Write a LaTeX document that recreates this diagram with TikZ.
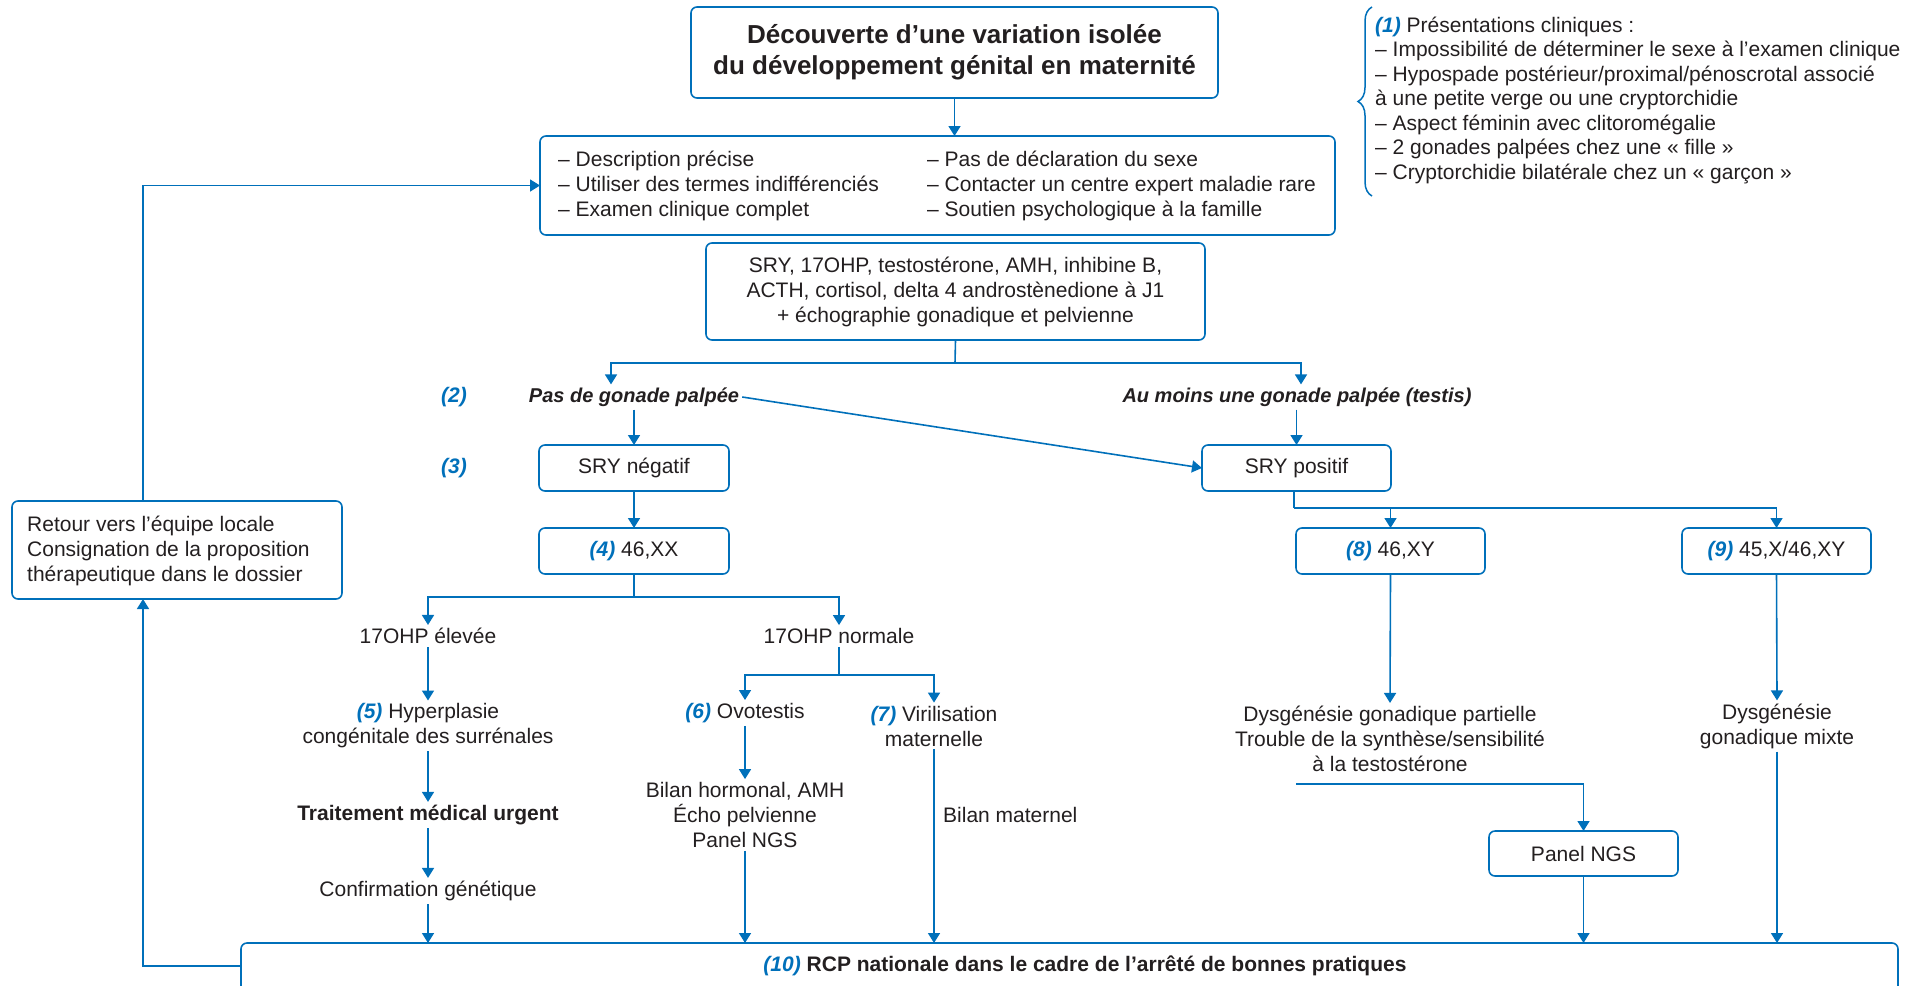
\documentclass[tikz,border=0pt]{standalone}
\usepackage{fontspec}
\setmainfont{Liberation Sans}
\usetikzlibrary{arrows.meta,decorations.pathreplacing,calc}
\definecolor{myblue}{RGB}{0,112,186}
\definecolor{txtgray}{RGB}{35,31,32}
\newcommand{\nbr}[1]{{\color{myblue}\bfseries\itshape #1}}
\begin{document}
\begin{tikzpicture}[x=1pt,y=-1pt,
  bx/.style={draw=myblue,line width=1.6pt,rounded corners=6pt,inner sep=0pt,outer sep=0pt},
  ln/.style={draw=myblue,line width=1.6pt},
  arr/.style={ln,-{Triangle[width=12pt,length=10pt]}},
  tx/.style={text=txtgray,font=\fontsize{21}{25}\selectfont,inner sep=3pt,align=center},
  bt/.style={tx,font=\fontsize{21}{25}\selectfont\bfseries},
  bit/.style={tx,font=\fontsize{20}{25}\selectfont\bfseries\itshape}]
\useasboundingbox (0,0) rectangle (1913,985);
\fill[white] (0,0) rectangle (1913,985);
\clip (0,0) rectangle (1913,985);

% ---- boxes
\node[bx,minimum width=527pt,minimum height=91pt] (title) at (954.5,52.5) {};
\node[tx,font=\fontsize{26}{31}\selectfont\bfseries] (titletxt) at (954.5,52.5) {Découverte d’une variation isolée\\du développement génital en maternité};

\node[bx,minimum width=795pt,minimum height=99pt] (box2) at (937.5,185.5) {};
\node[tx,align=left,anchor=west] (b2l) at (555,185.5) {– Description précise\\– Utiliser des termes indifférenciés\\– Examen clinique complet};
\node[tx,align=left,anchor=west] (b2r) at (924,185.5) {– Pas de déclaration du sexe\\– Contacter un centre expert maladie rare\\– Soutien psychologique à la famille};

\node[bx,minimum width=499pt,minimum height=97pt] (box3) at (955.5,291.5) {};
\node[tx] (b3t) at (955.5,291.5) {SRY, 17OHP, testostérone, AMH, inhibine B,\\ACTH, cortisol, delta 4 androstènedione à J1\\+ échographie gonadique et pelvienne};

\node[bit] (nogon) at (634,397) {Pas de gonade palpée};
\node[bit] (atleast) at (1297,397) {Au moins une gonade palpée (testis)};
\node[tx] (n2) at (454,397) {\nbr{(2)}};
\node[tx] (n3) at (454,468) {\nbr{(3)}};

\node[bx,minimum width=190pt,minimum height=46pt] (sryneg) at (634,468) {};
\node[tx] (srynegt) at (634,468) {SRY négatif};
\node[bx,minimum width=190pt,minimum height=46pt] (xx) at (634,551) {};
\node[tx] (xxt) at (634,551) {\nbr{(4)} 46,XX};

\node[bx,minimum width=189pt,minimum height=46pt] (srypos) at (1296.5,468) {};
\node[tx] (srypost) at (1296.5,468) {SRY positif};
\node[bx,minimum width=189pt,minimum height=46pt] (xy) at (1390.5,551) {};
\node[tx] (xyt) at (1390.5,551) {\nbr{(8)} 46,XY};
\node[bx,minimum width=189pt,minimum height=46pt] (xm) at (1776.5,551) {};
\node[tx] (xmt) at (1776.5,551) {\nbr{(9)} 45,X/46,XY};

\node[bx,minimum width=330pt,minimum height=98pt] (retour) at (177,550) {};
\node[tx,align=left,anchor=west] (retourt) at (24,551) {Retour vers l’équipe locale\\Consignation de la proposition\\thérapeutique dans le dossier};

% ---- left branch
\node[tx] (el) at (428,636) {17OHP élevée};
\node[tx] (nor) at (839,636) {17OHP normale};
\node[tx] (hyp) at (428,726) {\nbr{(5)} Hyperplasie\\congénitale des surrénales};
\node[bt] (trt) at (428,815) {Traitement médical urgent};
\node[tx] (conf) at (428,891) {Confirmation génétique};
\node[tx] (ovo) at (745,713) {\nbr{(6)} Ovotestis};
\node[tx] (bil) at (745,815) {Bilan hormonal, AMH\\Écho pelvienne\\Panel NGS};
\node[tx] (vir) at (934,726) {\nbr{(7)} Virilisation\\maternelle};
\node[tx,anchor=west] (bmat) at (940,815) {Bilan maternel};

% ---- right branch
\node[tx] (dys) at (1390,739) {Dysgénésie gonadique partielle\\Trouble de la synthèse/sensibilité\\à la testostérone};
\node[tx] (mix) at (1777,726) {Dysgénésie\\gonadique mixte};
\node[bx,minimum width=189pt,minimum height=45pt] (panel) at (1583.5,853.5) {};
\node[tx] (panelt) at (1583.5,853.5) {Panel NGS};

% ---- bottom
\node[bx,minimum width=1657pt,minimum height=90pt,anchor=north west] (rcp) at (241,943) {};
\node[bt] (rcpt) at (1085,966) {\nbr{(10)} RCP nationale dans le cadre de l’arrêté de bonnes pratiques};

% ---- brace and notes
\draw[myblue,line width=1.5pt,decorate,decoration={brace,amplitude=14pt}] (1372,196) -- (1372,7);
\node[tx,align=left,anchor=west,font=\fontsize{21}{24.5}\selectfont] (notes) at (1372,100) {\nbr{(1)} Présentations cliniques :\\– Impossibilité de déterminer le sexe à l’examen clinique\\– Hypospade postérieur/proximal/pénoscrotal associé\\à une petite verge ou une cryptorchidie\\– Aspect féminin avec clitoromégalie\\– 2 gonades palpées chez une « fille »\\– Cryptorchidie bilatérale chez un « garçon »};

% ---- connectors
\draw[arr] (title.south) -- (title.south |- box2.north);
\coordinate (j1) at (955,363);
\draw[ln] (box3.south) -- (j1);
\draw[arr] (j1) -| (611,0 |- nogon.north);
\draw[arr] (j1) -| (1301,0 |- atleast.north);
\draw[arr] (sryneg.north |- nogon.south) -- (sryneg.north);
\draw[arr] (nogon.east) -- (srypos.west);
\draw[arr] (srypos.north |- atleast.south) -- (srypos.north);
\draw[arr] (sryneg.south) -- (xx.north);
\coordinate (j2) at (634,597);
\draw[ln] (xx.south) -- (j2);
\draw[arr] (j2) -| (el.north);
\draw[arr] (j2) -| (nor.north);
\draw[arr] (el.south) -- (hyp.north);
\draw[arr] (hyp.south) -- (trt.north);
\draw[arr] (trt.south) -- (conf.north);
\draw[arr] (conf.south) -- (conf.south |- rcp.north);
\coordinate (j3) at (839,675);
\draw[ln] (nor.south) -- (j3);
\draw[arr] (j3) -| (ovo.north);
\draw[arr] (j3) -| (vir.north);
\draw[arr] (ovo.south) -- (bil.north);
\draw[arr] (bil.south) -- (bil.south |- rcp.north);
\draw[arr] (vir.south) -- (vir.south |- rcp.north);
\coordinate (j4) at (1294,508);
\draw[ln] (srypos.south -| j4) -- (j4);
\draw[arr] (j4) -| (xy.north);
\draw[arr] (j4) -| (xm.north);
\draw[arr] (xy.south) -- (dys.north);
\draw[arr] (xm.south) -- (mix.north);
\coordinate (j5) at (1296,784);
\draw[arr] (j5) -| (panel.north);
\draw[arr] (panel.south) -- (panel.south |- rcp.north);
\draw[arr] (mix.south) -- (mix.south |- rcp.north);
\draw[arr] (rcp.west |- rcpt) -| (143,0 |- retour.south);
\draw[arr] (143,0 |- retour.north) |- (box2.west);
\end{tikzpicture}
\end{document}
